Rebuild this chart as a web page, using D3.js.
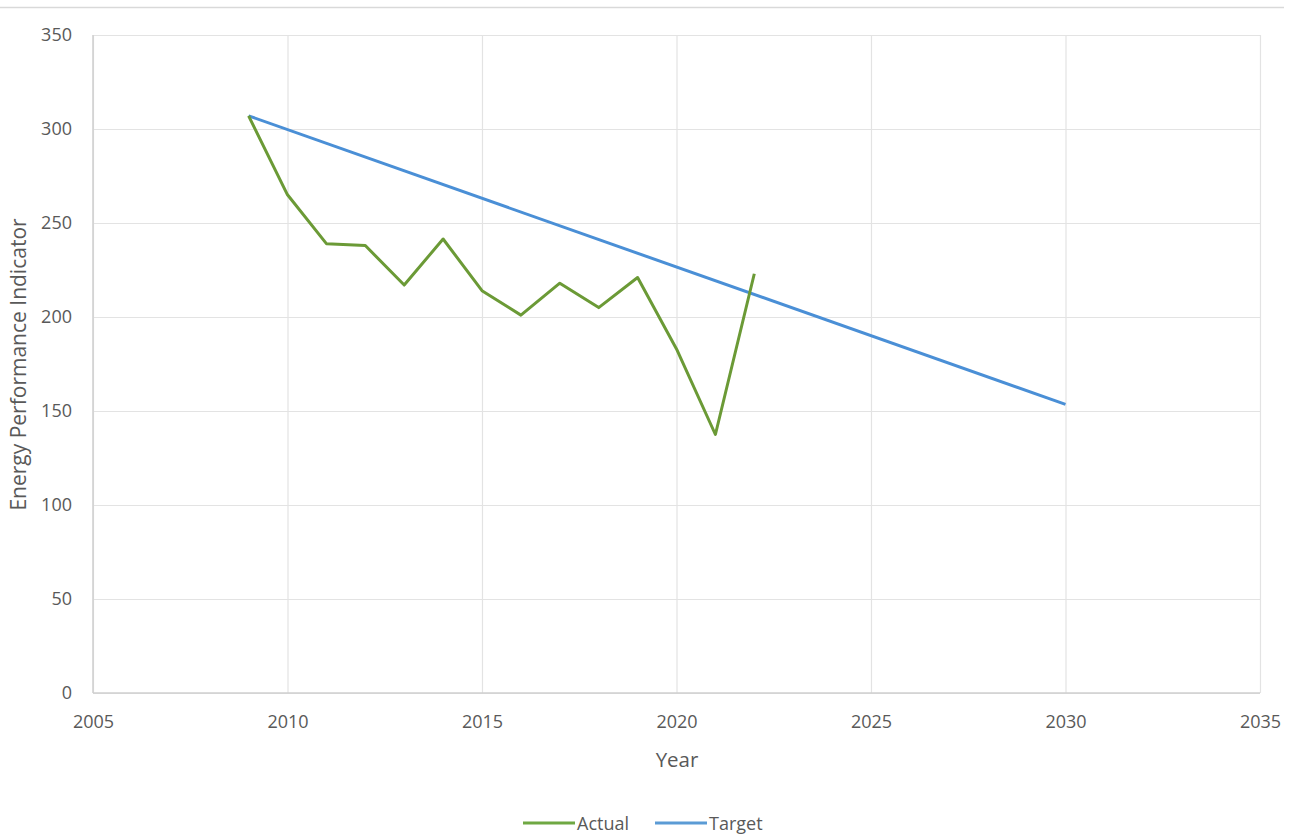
<!DOCTYPE html>
<html><head><meta charset="utf-8">
<script src="https://cdn.jsdelivr.net/npm/d3@7"></script>
<style>body{margin:0;background:#fff;font-family:"Open Sans",sans-serif;}</style>
</head><body><svg id="c" width="1294" height="837"></svg>
<script>
const actualYears = [2009,2010,2011,2012,2013,2014,2015,2016,2017,2018,2019,2020,2021,2022];
const actualValues = [307,265,239,238,217,241.5,214,201,218,205,221,183,137.5,223];
const targetYears = [2009,2030];
const targetValues = [307,153.5];
const xTicks = [2005,2010,2015,2020,2025,2030,2035];
const yTicks = [0,50,100,150,200,250,300,350];

const svg = d3.select("#c");
const m = {l:93, r:1260, t:35, b:693};
const x = d3.scaleLinear().domain([2005,2035]).range([m.l,m.r]);
const y = d3.scaleLinear().domain([0,350]).range([m.b,m.t]);

svg.append("line").attr("x1",0).attr("x2",1284).attr("y1",7.5).attr("y2",7.5).attr("stroke","#d9d9d9").attr("stroke-width",1.5);

const gy = svg.append("g").attr("transform",`translate(${m.l},0)`)
  .call(d3.axisLeft(y).tickValues(yTicks).tickSize(-(m.r-m.l)).tickPadding(21));
gy.select(".domain").remove();
gy.selectAll(".tick line").attr("stroke","#e3e3e3").attr("stroke-width",1.2);
gy.selectAll(".tick text").attr("fill","#595959").attr("font-size",18).attr("font-family","Open Sans");

const gx = svg.append("g").attr("transform",`translate(0,${m.b})`)
  .call(d3.axisBottom(x).tickValues(xTicks).tickFormat(d3.format("d")).tickSize(-(m.b-m.t)).tickPadding(22));
gx.select(".domain").remove();
gx.selectAll(".tick line").attr("stroke","#e3e3e3").attr("stroke-width",1.2);
gx.selectAll(".tick text").attr("fill","#595959").attr("font-size",18).attr("font-family","Open Sans");

svg.append("line").attr("x1",m.l).attr("x2",m.r).attr("y1",m.b).attr("y2",m.b).attr("stroke","#cfcfcf").attr("stroke-width",1.5);
svg.append("line").attr("x1",m.l).attr("x2",m.l).attr("y1",m.t).attr("y2",m.b).attr("stroke","#cfcfcf").attr("stroke-width",1.5);

const line = d3.line().x(d=>x(d[0])).y(d=>y(d[1]));
svg.append("path").datum(targetYears.map((d,i)=>[d,targetValues[i]]))
  .attr("d",line).attr("fill","none").attr("stroke","#4a8fd6").attr("stroke-width",3);
svg.append("path").datum(actualYears.map((d,i)=>[d,actualValues[i]]))
  .attr("d",line).attr("fill","none").attr("stroke","#6b9a36").attr("stroke-width",3).attr("stroke-linejoin","round");

svg.append("text").attr("x",677).attr("y",767).attr("text-anchor","middle")
  .attr("fill","#595959").attr("font-size",20.5).text("Year");
svg.append("text").attr("transform","translate(26,364.5) rotate(-90)").attr("text-anchor","middle")
  .attr("fill","#595959").attr("font-size",21).text("Energy Performance Indicator");

const leg = [{n:"Actual",c:"#6fa843",x:523},{n:"Target",c:"#5b9bd5",x:655}];
leg.forEach(l=>{
  svg.append("line").attr("x1",l.x).attr("x2",l.x+52).attr("y1",823).attr("y2",823).attr("stroke",l.c).attr("stroke-width",3);
  svg.append("text").attr("x",l.x+54).attr("y",830).attr("fill","#595959").attr("font-size",18).text(l.n);
});
</script></body></html>
